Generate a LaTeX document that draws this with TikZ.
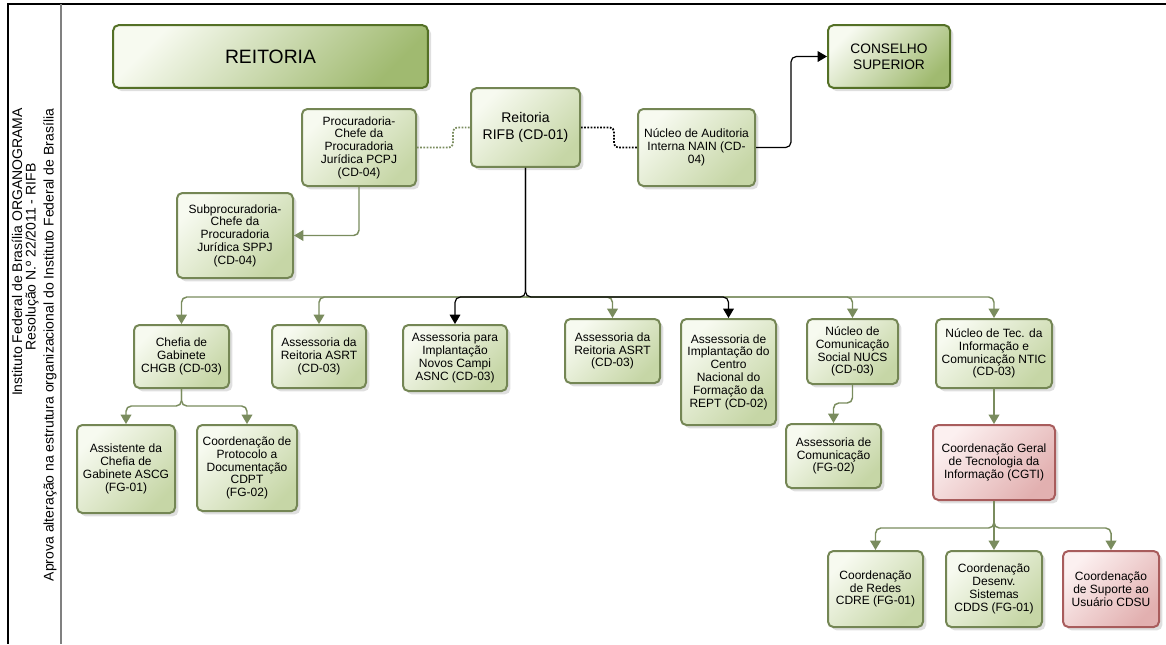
\documentclass[tikz,border=0pt]{standalone}
\usepackage{fontspec}
\setmainfont{Liberation Sans}
\usetikzlibrary{arrows.meta,shadows}

\definecolor{boxline}{RGB}{116,134,84}
\definecolor{boxlight}{RGB}{247,250,240}
\definecolor{boxdark}{RGB}{198,214,166}
\definecolor{titleline}{RGB}{84,112,38}
\definecolor{titledark}{RGB}{160,186,112}
\definecolor{redline}{RGB}{168,92,92}
\definecolor{redlight}{RGB}{252,240,240}
\definecolor{reddark}{RGB}{226,176,176}
\definecolor{linkgreen}{RGB}{122,140,94}

\begin{document}
\begin{tikzpicture}[x=0.75pt, y=-0.75pt,
    every node/.style={font=\fontsize{9}{9.6}\selectfont, align=center, inner sep=1pt},
    unit/.style={draw=boxline, line width=1.5pt, rounded corners=4pt,
      top color=boxlight, bottom color=boxdark, shading angle=45,
      drop shadow={shadow xshift=2.5pt, shadow yshift=-2.5pt, opacity=0.25}},
    redunit/.style={unit, draw=redline, top color=redlight, bottom color=reddark, shading angle=45},
    headunit/.style={unit, draw=titleline, top color=boxlight, bottom color=titledark, shading angle=45},
    strip/.style={rotate=90, font=\fontsize{10.5}{12}\selectfont},
    link/.style={draw=linkgreen, line width=1.1pt, rounded corners=4pt, -{Triangle[width=8pt,length=7pt]}},
    blacklink/.style={draw=black, line width=0.9pt, rounded corners=4pt, -{Triangle[width=8pt,length=7pt]}},
    dotlink/.style={line width=1.3pt, rounded corners=3pt, dash pattern=on 1.3pt off 1.1pt}]
  \useasboundingbox (0,0) rectangle (1166,644);
  \draw[line width=1.1pt] (1166,4) -- (8,4) -- (8,644);
  \draw[gray, line width=1.5pt] (61,4) -- (61,644);
  \node[strip] (org) at (17,252) {Instituto Federal de Brasília ORGANOGRAMA};
  \node[strip] (res) at (32,257) {Resolução N.º 22/2011 - RIFB};
  \node[strip] (aprova) at (50,345) {Aprova alteração na estrutura organizacional do Instituto Federal de Brasília};

  \node[headunit, minimum width=236pt, minimum height=47pt, font=\fontsize{14.5}{16}\selectfont] (title) at (270.5,56.5) {REITORIA};
  \node[headunit, minimum width=91.5pt, minimum height=47pt, font=\fontsize{10.3}{12}\selectfont] (conselho) at (889,56.5) {CONSELHO\\SUPERIOR};
  \node[unit, minimum width=81.75pt, minimum height=59pt, font=\fontsize{10.5}{12.5}\selectfont] (reitoria) at (525.5,127.5) {Reitoria\\RIFB (CD-01)};
  \node[unit, minimum width=87.75pt, minimum height=57.75pt] (nain) at (696.5,147.5) {Núcleo de Auditoria\\Interna NAIN (CD-\\04)};
  \node[unit, minimum width=85.5pt, minimum height=57.75pt] (pcpj) at (359,147.5) {Procuradoria-\\Chefe da\\Procuradoria\\Jurídica PCPJ\\(CD-04)};
  \node[unit, minimum width=87pt, minimum height=63.75pt] (sppj) at (235,235.5) {Subprocuradoria-\\Chefe da\\Procuradoria\\Jurídica SPPJ\\(CD-04)};

  \node[unit, minimum width=71.25pt, minimum height=47.25pt] (chgb) at (181.5,356.5) {Chefia de\\Gabinete\\CHGB (CD-03)};
  \node[unit, minimum width=70.5pt, minimum height=47.25pt] (asrta) at (319,356.5) {Assessoria da\\Reitoria ASRT\\(CD-03)};
  \node[unit, minimum width=78pt, minimum height=49.5pt] (asnc) at (455,358) {Assessoria para\\Implantação\\Novos Campi\\ASNC (CD-03)};
  \node[unit, minimum width=71.25pt, minimum height=48pt] (asrtb) at (612.5,351) {Assessoria da\\Reitoria ASRT\\(CD-03)};
  \node[unit, minimum width=71.25pt, minimum height=79.5pt] (rept) at (728.5,372) {Assessoria de\\Implantação do\\Centro\\Nacional do\\Formação da\\REPT (CD-02)};
  \node[unit, minimum width=68.25pt, minimum height=48.75pt] (nucs) at (852.5,351.5) {Núcleo de\\Comunicação\\Social NUCS\\(CD-03)};
  \node[unit, minimum width=87pt, minimum height=51.75pt] (ntic) at (994,353.5) {Núcleo de Tec. da\\Informação e\\Comunicação NTIC\\(CD-03)};

  \node[unit, minimum width=73.5pt, minimum height=66pt] (ascg) at (126,469) {Assistente da\\Chefia de\\Gabinete ASCG\\(FG-01)};
  \node[unit, minimum width=75pt, minimum height=64.5pt] (cdpt) at (247,468) {Coordenação de\\Protocolo a\\Documentação\\CDPT\\(FG-02)};
  \node[unit, minimum width=71.25pt, minimum height=48pt] (ascom) at (833.5,456) {Assessoria de\\Comunicação\\(FG-02)};
  \node[redunit, minimum width=91.5pt, minimum height=56.25pt] (cgti) at (994,462.5) {Coordenação Geral\\de Tecnologia da\\Informação (CGTI)};
  \node[unit, minimum width=71.25pt, minimum height=57pt] (cdre) at (875.5,589) {Coordenação\\de Redes\\CDRE (FG-01)};
  \node[unit, minimum width=72pt, minimum height=57pt] (cdds) at (994,589) {Coordenação\\Desenv.\\Sistemas\\CDDS (FG-01)};
  \node[redunit, minimum width=72pt, minimum height=57pt] (cdsu) at (1111,589) {Coordenação\\de Suporte ao\\Usuário CDSU};

  \coordinate (hub) at (525.5,297);
  \coordinate (chgbhub) at (181.5,406);
  \coordinate (nucsbend) at (852.5,403);
  \coordinate (cgtihub) at (994,528);

  \draw[dotlink, linkgreen] (pcpj.east) -- ++(36,0) |- (reitoria.west);
  \draw[dotlink, black] (reitoria.east) -- ++(33,0) |- (nain.west);
  \draw[blacklink] (nain.east) -- ++(35,0) |- (conselho.west);
  \draw[link] (pcpj.south) |- (sppj.east);

  \draw[link] (hub) -| (chgb.north);
  \draw[link] (hub) -| (asrta.north);
  \draw[link] (hub) -| (asrtb.north);
  \draw[link] (hub) -| (nucs.north);
  \draw[link] (hub) -| (ntic.north);
  \draw[blacklink] (reitoria.south) -- (hub) -| (asnc.north);
  \draw[blacklink] (reitoria.south) -- (hub) -| (rept.north);

  \draw[link] (chgb.south) -- (chgbhub) -| (ascg.north);
  \draw[link] (chgb.south) -- (chgbhub) -| (cdpt.north);
  \draw[link] (nucs.south) -- (nucsbend) -| (ascom.north);
  \draw[link] (ntic.south) -- (cgti.north);
  \draw[link] (cgti.south) -- (cgtihub) -| (cdre.north);
  \draw[link] (cgti.south) -- (cgtihub) -- (cdds.north);
  \draw[link] (cgti.south) -- (cgtihub) -| (cdsu.north);
\end{tikzpicture}
\end{document}
